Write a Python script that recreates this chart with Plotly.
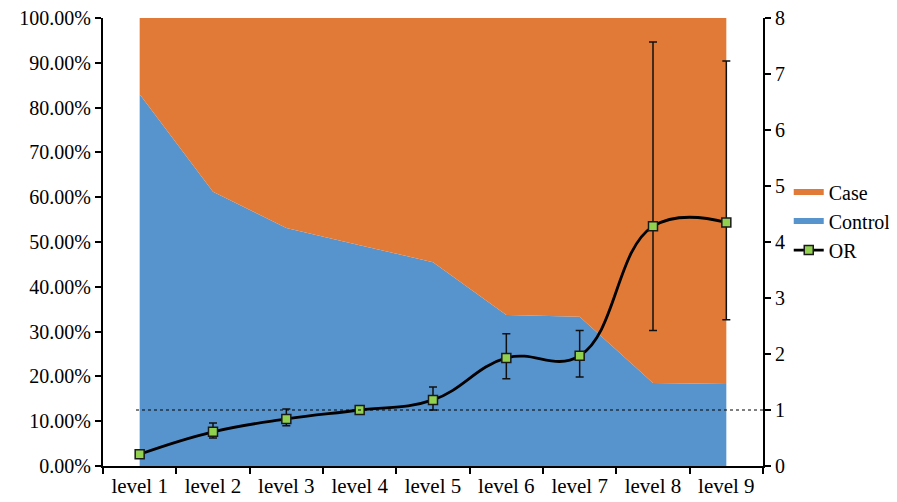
import plotly.graph_objects as go

levels = ["level 1", "level 2", "level 3", "level 4", "level 5",
          "level 6", "level 7", "level 8", "level 9"]
control_pct = [0.830, 0.612, 0.531, 0.493, 0.455, 0.337, 0.333, 0.185, 0.183]
case_pct = [0.170, 0.388, 0.469, 0.507, 0.545, 0.663, 0.667, 0.815, 0.817]
or_values = [0.21, 0.61, 0.84, 1.00, 1.18, 1.93, 1.97, 4.28, 4.35]
or_upper = [0.26, 0.77, 1.02, 1.03, 1.41, 2.36, 2.42, 7.57, 7.23]
or_lower = [0.17, 0.50, 0.72, 0.97, 1.00, 1.56, 1.59, 2.42, 2.61]
left_ticks = [0, 0.1, 0.2, 0.3, 0.4, 0.5, 0.6, 0.7, 0.8, 0.9, 1.0]
right_ticks = [0, 1, 2, 3, 4, 5, 6, 7, 8]
reference_or = 1

BLUE = "#5794CE"
ORANGE = "#E27A37"
FONT = "Liberation Serif"

err_plus = [u - v for u, v in zip(or_upper, or_values)]
err_minus = [v - l for v, l in zip(or_values, or_lower)]

fig = go.Figure()
fig.add_trace(go.Scatter(
    x=levels, y=control_pct, name="Control", stackgroup="one",
    mode="none", fillcolor=BLUE, legendrank=2, hoverinfo="skip"))
fig.add_trace(go.Scatter(
    x=levels, y=case_pct, name="Case", stackgroup="one",
    mode="none", fillcolor=ORANGE, legendrank=1, hoverinfo="skip"))
fig.add_trace(go.Scatter(
    x=levels, y=or_values, name="OR", yaxis="y2",
    mode="lines+markers",
    line=dict(color="black", width=2.8, shape="spline", smoothing=1.2),
    marker=dict(symbol="square", size=9, color="#92D050",
                line=dict(color="#1a1a1a", width=1.5)),
    error_y=dict(type="data", symmetric=False, array=err_plus,
                 arrayminus=err_minus, color="#111111", thickness=1.5,
                 width=4),
    legendrank=3))

fig.add_shape(type="line", xref="x", yref="y2",
              x0=-0.05, x1=8.5, y0=reference_or, y1=reference_or,
              line=dict(color="black", width=1, dash="dot"), layer="above")

fig.update_layout(
    width=889, height=494,
    margin=dict(l=95, r=134, t=10, b=36, autoexpand=False),
    paper_bgcolor="white", plot_bgcolor="white",
    font=dict(family=FONT, size=20, color="black"),
    showlegend=True,
    legend=dict(x=1.039, xanchor="left", y=0.655, yanchor="top",
                font=dict(family=FONT, size=20, color="black"),
                traceorder="normal", itemwidth=30,
                bgcolor="rgba(0,0,0,0)"),
    xaxis=dict(type="category", range=[-0.5, 8.5], showline=True,
               linecolor="black", linewidth=2, ticks="outside",
               tickson="boundaries", ticklen=6, tickwidth=2,
               tickcolor="black", showgrid=False, zeroline=False,
               automargin=False, ticklabeloverflow="allow",
               tickfont=dict(family=FONT, size=21)),
    yaxis=dict(range=[0, 1], tickvals=left_ticks, tickformat=".2%",
               showline=True, linecolor="black", linewidth=2,
               ticks="outside", ticklen=6, tickwidth=2, tickcolor="black",
               showgrid=False, zeroline=False, automargin=False,
               ticklabeloverflow="allow",
               tickfont=dict(family=FONT, size=20)),
    yaxis2=dict(range=[0, 8], tickvals=right_ticks, overlaying="y",
                side="right", showline=True, linecolor="black",
                linewidth=2, ticks="outside", ticklen=6, tickwidth=2,
                tickcolor="black", showgrid=False, zeroline=False,
                automargin=False, ticklabeloverflow="allow",
                tickfont=dict(family=FONT, size=20)),
)

fig.write_html("out.html")
